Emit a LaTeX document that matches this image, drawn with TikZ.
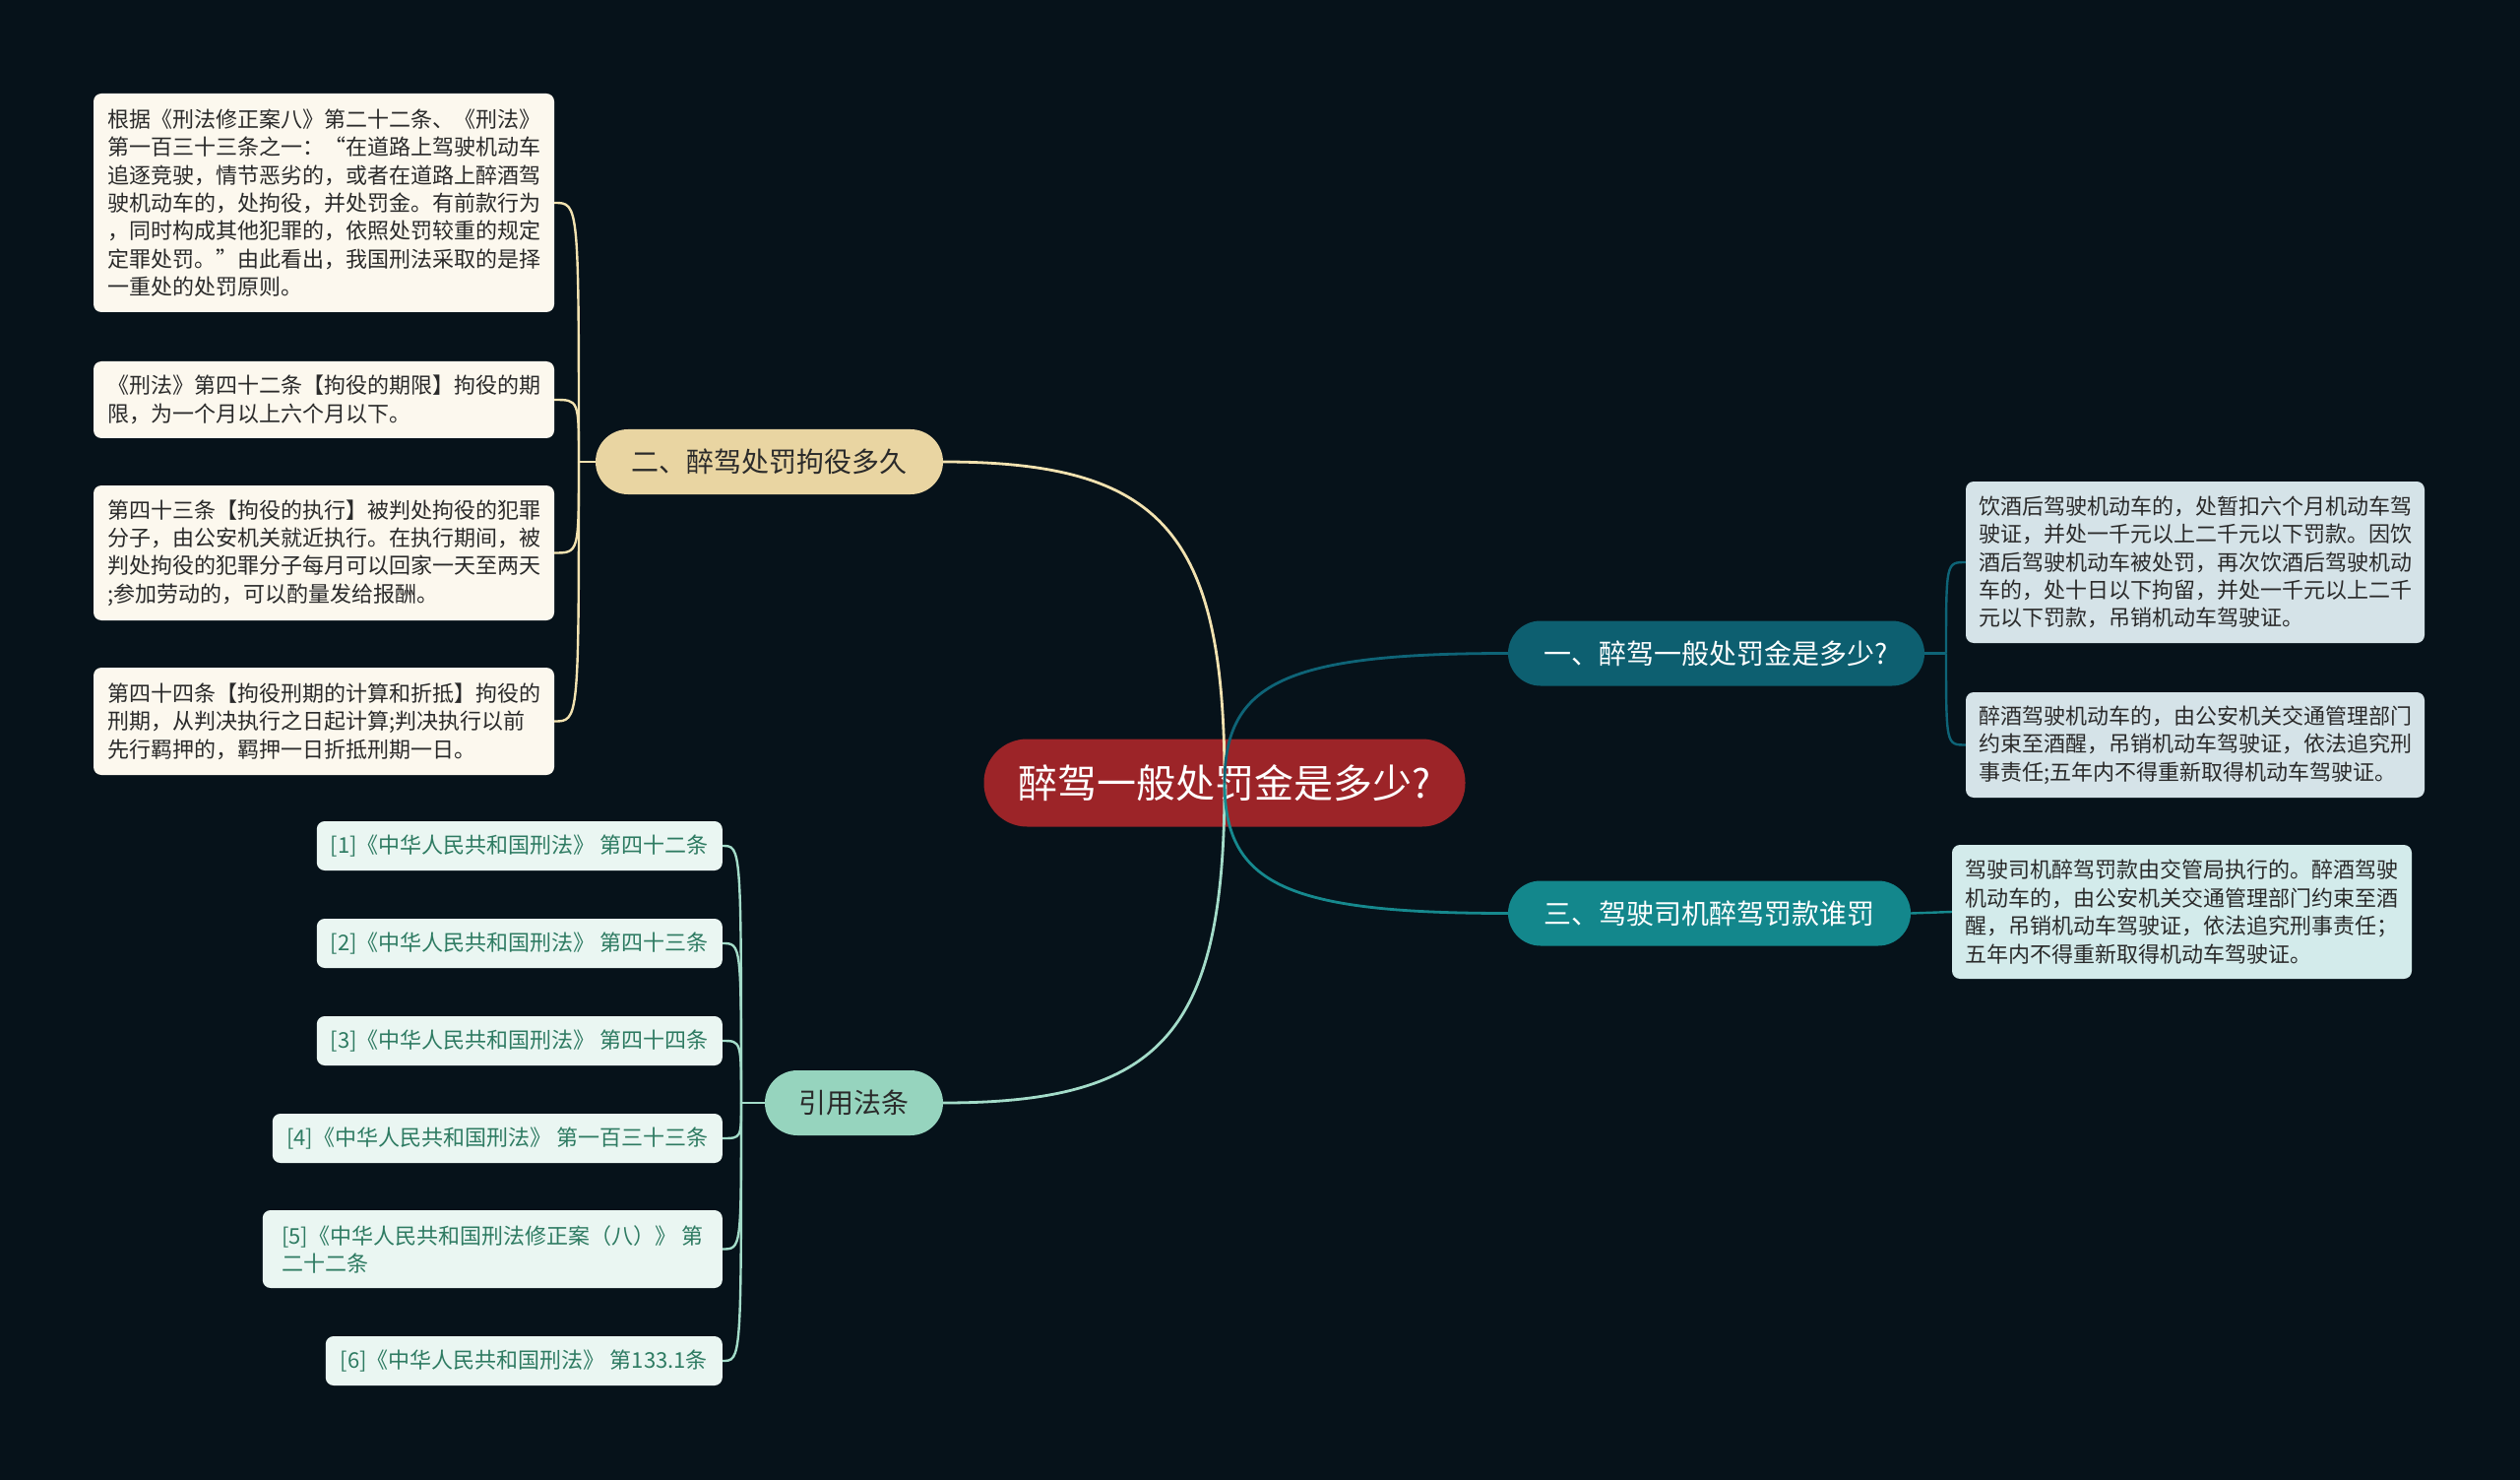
\documentclass[tikz,border=0pt]{standalone}
\usepackage{fontspec}
\setmainfont{Noto Sans CJK SC}
\usetikzlibrary{calc}
\definecolor{bgc}{HTML}{06121A}
\definecolor{cred}{HTML}{9C2428}
\definecolor{ctan}{HTML}{E9D5A2}
\definecolor{cteal}{HTML}{0D5F70}
\definecolor{cteal2}{HTML}{13878C}
\definecolor{cmint}{HTML}{96D4BE}
\definecolor{lcream}{HTML}{FCF8EE}
\definecolor{lblue}{HTML}{D5E3E8}
\definecolor{lcyan}{HTML}{D3EBEB}
\definecolor{lref}{HTML}{EAF6F2}
\definecolor{tref}{HTML}{2E7B62}
\definecolor{tdark}{HTML}{2A2A2A}
\definecolor{ln2}{HTML}{F2E2B0}
\definecolor{ln1}{HTML}{0E6477}
\definecolor{ln3}{HTML}{16898E}
\definecolor{lnr}{HTML}{A3DCC9}
\begin{document}
\begin{tikzpicture}[x=1pt,y=-1pt,
  mainnode/.style={rectangle, fill=cred, text=white, rounded corners=44pt, minimum width=489pt, minimum height=89pt, inner sep=0pt, font=\fontsize{40}{48}\selectfont},
  branch/.style={rectangle, rounded corners=33pt, minimum height=66pt, inner sep=0pt, font=\fontsize{28}{34}\selectfont},
  leaf/.style={rectangle, rounded corners=8pt, inner sep=0pt, align=left, font=\fontsize{22}{28.4}\selectfont},
  refbox/.style={rectangle, rounded corners=8pt, inner sep=0pt, fill=lref, text=tref, anchor=east, minimum height=50pt, font=\fontsize{22}{28}\selectfont},
  conn/.style={line width=2.8pt},
  sub/.style={line width=2.4pt}
]
\useasboundingbox (0,0) rectangle (2560,1503);
\fill[bgc] (0,0) rectangle (2560,1503);

% nodes
\node[mainnode] (c) at (1244,795) {醉驾一般处罚金是多少?};
\node[branch, fill=ctan, text=tdark, minimum width=353pt] (n2) at (781.5,469) {二、醉驾处罚拘役多久};
\node[branch, fill=cteal, text=white, minimum width=423pt] (n1) at (1743.5,663.5) {一、醉驾一般处罚金是多少?};
\node[branch, fill=cteal2, text=white, minimum width=409pt] (n3) at (1736.5,927.5) {三、驾驶司机醉驾罚款谁罚};
\node[branch, fill=cmint, text=tdark, minimum width=181pt] (nr) at (867.5,1120) {引用法条};

% left leaves
\node[leaf, fill=lcream, text=tdark, minimum width=468pt, minimum height=222pt] (L1) at (329,206) {根据《刑法修正案八》第二十二条、《刑法》\\第一百三十三条之一：“在道路上驾驶机动车\\追逐竞驶，情节恶劣的，或者在道路上醉酒驾\\驶机动车的，处拘役，并处罚金。有前款行为\\，同时构成其他犯罪的，依照处罚较重的规定\\定罪处罚。”由此看出，我国刑法采取的是择\\一重处的处罚原则。};
\node[leaf, fill=lcream, text=tdark, minimum width=468pt, minimum height=78pt] (L2) at (329,406) {《刑法》第四十二条【拘役的期限】拘役的期\\限，为一个月以上六个月以下。};
\node[leaf, fill=lcream, text=tdark, minimum width=468pt, minimum height=137pt] (L3) at (329,561.5) {第四十三条【拘役的执行】被判处拘役的犯罪\\分子，由公安机关就近执行。在执行期间，被\\判处拘役的犯罪分子每月可以回家一天至两天\\;参加劳动的，可以酌量发给报酬。};
\node[leaf, fill=lcream, text=tdark, minimum width=468pt, minimum height=109pt] (L4) at (329,732.5) {第四十四条【拘役刑期的计算和折抵】拘役的\\刑期，从判决执行之日起计算;判决执行以前\\先行羁押的，羁押一日折抵刑期一日。};

% right leaves
\node[leaf, fill=lblue, text=tdark, minimum width=466pt, minimum height=164pt] (R1) at (2230,571) {饮酒后驾驶机动车的，处暂扣六个月机动车驾\\驶证，并处一千元以上二千元以下罚款。因饮\\酒后驾驶机动车被处罚，再次饮酒后驾驶机动\\车的，处十日以下拘留，并处一千元以上二千\\元以下罚款，吊销机动车驾驶证。};
\node[leaf, fill=lblue, text=tdark, minimum width=466pt, minimum height=107pt] (R2) at (2230,756.5) {醉酒驾驶机动车的，由公安机关交通管理部门\\约束至酒醒，吊销机动车驾驶证，依法追究刑\\事责任;五年内不得重新取得机动车驾驶证。};
\node[leaf, fill=lcyan, text=tdark, minimum width=467pt, minimum height=136pt] (R3) at (2216.5,926) {驾驶司机醉驾罚款由交管局执行的。醉酒驾驶\\机动车的，由公安机关交通管理部门约束至酒\\醒，吊销机动车驾驶证，依法追究刑事责任；\\五年内不得重新取得机动车驾驶证。};

% reference leaves
\node[refbox, minimum width=412pt] (F1) at (734,859) {[1]《中华人民共和国刑法》 第四十二条};
\node[refbox, minimum width=412pt] (F2) at (734,958) {[2]《中华人民共和国刑法》 第四十三条};
\node[refbox, minimum width=412pt] (F3) at (734,1057) {[3]《中华人民共和国刑法》 第四十四条};
\node[refbox, minimum width=457pt] (F4) at (734,1156) {[4]《中华人民共和国刑法》 第一百三十三条};
\node[refbox, minimum width=467pt, minimum height=79pt, align=left] (F5) at (734,1268.5) {[5]《中华人民共和国刑法修正案（八）》 第\\二十二条};
\node[refbox, minimum width=403pt] (F6) at (734,1382) {[6]《中华人民共和国刑法》 第133.1条};

% junctions
\coordinate (J2) at (588,469);
\coordinate (J1) at (1977,663.5);
\coordinate (Jr) at (753,1120);

% main connectors
\foreach \tgt/\anc/\col in {n2/east/ln2, nr/east/lnr, n1/west/ln1, n3/west/ln3}
  \draw[conn, \col] (c.center) .. controls ($(c.center)!0.78!(c.center |- \tgt.\anc)$)
     and ($(\tgt.\anc)!0.78!(c.center |- \tgt.\anc)$) .. (\tgt.\anc);

% sub connectors
\draw[sub, ln2] (n2.west) -- (J2);
\foreach \k in {L1,L2,L3,L4}
  \draw[sub, ln2] (J2) .. controls (J2 |- \k.east) .. (\k.east);
\draw[sub, ln1] (n1.east) -- (J1);
\foreach \k in {R1,R2}
  \draw[sub, ln1] (J1) .. controls (J1 |- \k.west) .. (\k.west);
\draw[sub, ln3] (n3.east) -- (R3.west);
\draw[sub, lnr] (nr.west) -- (Jr);
\foreach \k in {F1,F2,F3,F4,F5,F6}
  \draw[sub, lnr] (Jr) .. controls (Jr |- \k.east) .. (\k.east);
\end{tikzpicture}
\end{document}
